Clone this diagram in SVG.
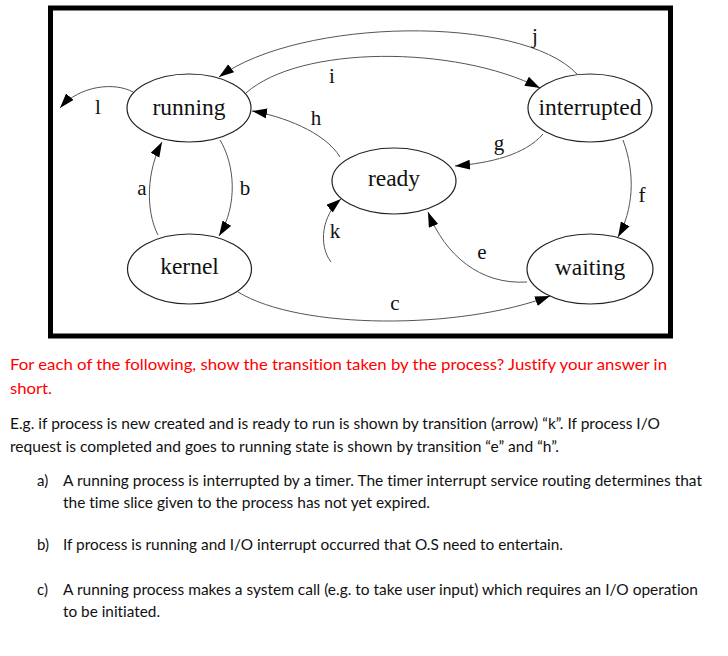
<svg xmlns="http://www.w3.org/2000/svg" width="728" height="656" viewBox="0 0 728 656">
<defs>
<marker id="ah" markerUnits="userSpaceOnUse" markerWidth="16" markerHeight="11" refX="15" refY="5" orient="auto">
<path d="M0,0 L15,5 L0,10 z" fill="#000"/>
</marker>
<style>
.node ellipse{fill:#fff;stroke:#222;stroke-width:1.2}
.nl{font-family:"Liberation Serif","Times New Roman",serif;font-size:23.5px;fill:#111;text-anchor:middle}
.el{font-family:"Liberation Serif","Times New Roman",serif;font-size:21px;fill:#111;text-anchor:middle}
.edge{fill:none;stroke:#555;stroke-width:1;marker-end:url(#ah)}
.red,.txt{font-family:Lato,"Open Sans",sans-serif;font-size:15px;font-variant-ligatures:none}
.red{fill:#f00}
.txt{fill:#111}
</style>
</defs>
<rect width="728" height="656" fill="#fff"/>
<rect x="50.5" y="8" width="620" height="328" fill="#fff" stroke="#000" stroke-width="5"/>
<g id="connectors">
<path class="edge" d="M577,74 C520,14 300,18 219,77"/>
<path class="edge" d="M246,93 C300,45 455,45 540,88"/>
<path class="edge" d="M340,157 C325,132 282,116 252,111"/>
<path class="edge" d="M543,134 C525,155 490,163 455,166"/>
<path class="edge" d="M623,140 C636,175 633,210 618,237"/>
<path class="edge" d="M527,282 C480,285 445,255 428,212"/>
<path class="edge" d="M238,292 C300,330 460,330 550,296"/>
<path class="edge" d="M158,235 C145,210 147,170 162,142"/>
<path class="edge" d="M220,140 C235,165 238,205 219,236"/>
<path class="edge" d="M331,262 C318,245 322,215 341,199"/>
<path class="edge" d="M133,92 C115,82 80,85 60,108"/>
<text class="el" x="535" y="43">j</text>
<text class="el" x="332" y="83">i</text>
<text class="el" x="316" y="125">h</text>
<text class="el" x="98" y="114">l</text>
<text class="el" x="499" y="150">g</text>
<text class="el" x="142" y="195">a</text>
<text class="el" x="245" y="195">b</text>
<text class="el" x="335" y="238">k</text>
<text class="el" x="642" y="202">f</text>
<text class="el" x="482" y="259">e</text>
<text class="el" x="395" y="310">c</text>
</g>
<g id="running" class="node"><ellipse cx="189" cy="108" rx="62" ry="34"/><text class="nl" x="189" y="115">running</text></g>
<g id="interrupted" class="node"><ellipse cx="590" cy="108" rx="62" ry="34"/><text class="nl" x="590" y="115">interrupted</text></g>
<g id="ready" class="node"><ellipse cx="394" cy="181" rx="62" ry="33"/><text class="nl" x="394" y="186">ready</text></g>
<g id="kernel" class="node"><ellipse cx="189.5" cy="269" rx="62" ry="35"/><text class="nl" x="189.5" y="274">kernel</text></g>
<g id="waiting" class="node"><ellipse cx="590" cy="269" rx="63" ry="35"/><text class="nl" x="590" y="275">waiting</text></g>
<g id="question">
<text class="red" x="10" y="370" textLength="657" lengthAdjust="spacingAndGlyphs">For each of the following, show the transition taken by the process? Justify your answer in</text>
<text class="red" x="10" y="394" textLength="42" lengthAdjust="spacingAndGlyphs">short.</text>
<text class="txt" x="10" y="429" textLength="650" lengthAdjust="spacingAndGlyphs">E.g. if process is new created and is ready to run is shown by transition (arrow) “k”.  If process I/O</text>
<text class="txt" x="10" y="452" textLength="549" lengthAdjust="spacingAndGlyphs">request is completed and goes to running state is shown by transition “e” and “h”.</text>
<text class="txt" x="37" y="486">a)</text>
<text class="txt" x="63" y="486" textLength="639" lengthAdjust="spacingAndGlyphs">A running process is interrupted by a timer. The timer interrupt service routing determines that</text>
<text class="txt" x="63" y="508" textLength="367" lengthAdjust="spacingAndGlyphs">the time slice given to the process has not yet expired.</text>
<text class="txt" x="37" y="550">b)</text>
<text class="txt" x="63" y="550" textLength="500" lengthAdjust="spacingAndGlyphs">If process is running and I/O interrupt occurred that O.S need to entertain.</text>
<text class="txt" x="37" y="595">c)</text>
<text class="txt" x="63" y="595" textLength="635" lengthAdjust="spacingAndGlyphs">A running process makes a system call (e.g. to take user input) which requires an I/O operation</text>
<text class="txt" x="63" y="617" textLength="97" lengthAdjust="spacingAndGlyphs">to be initiated.</text>
</g>
</svg>
